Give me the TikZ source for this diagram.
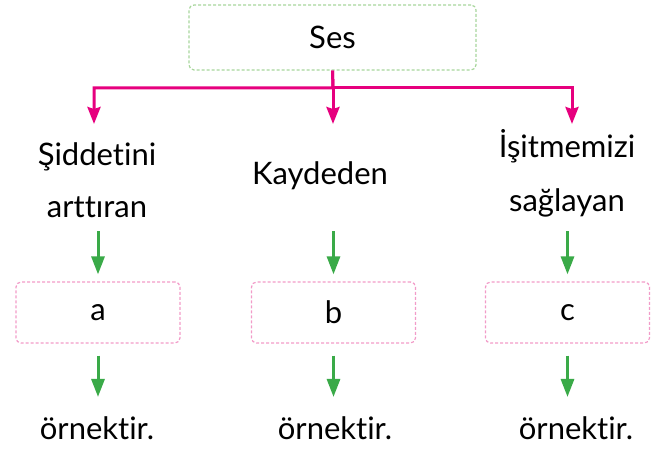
\documentclass[tikz,border=0pt]{standalone}
\usepackage{fontspec}
\setmainfont{Lato}[Ligatures={NoCommon,NoContextual}]
\usetikzlibrary{positioning,arrows.meta}
\definecolor{pembe}{HTML}{E6007E}
\definecolor{yesil}{HTML}{3AAA48}
\definecolor{acikyesil}{HTML}{A8D69C}
\definecolor{acikpembe}{HTML}{F29BC8}
\tikzset{yazi/.style={font=\fontsize{31}{52}\selectfont, inner sep=0pt, align=center},
	ustkutu/.style={draw=acikyesil, line width=1.2pt, dash pattern=on 3pt off 2pt, rounded corners=5pt, minimum width=287pt, minimum height=65pt, yazi},
	cevap/.style={draw=acikpembe, line width=1.2pt, dash pattern=on 3pt off 2pt, rounded corners=5pt, minimum width=164pt, minimum height=61pt, yazi},
	pembeok/.style={draw=pembe, line width=3pt, -{Stealth[length=17pt, width=13pt, inset=2pt]}},
	yesilok/.style={draw=yesil, line width=3pt, -{Triangle[length=18pt, width=13pt]}}}

\begin{document}
\begin{tikzpicture}[x=1pt, y=1pt]
				\useasboundingbox (0,0) rectangle (662,453);
				\node[ustkutu] (ses) at (332.5,415.5) {Ses};
				\coordinate (dal) at (333,365);

				% iki satirli dugumlerde base son satirda
				\node[yazi, anchor=base] (siddet) at (97,235)  {Şiddetini\\arttıran};
				\node[yazi, anchor=base] (kayit)  at (320,268) {Kaydeden};
				\node[yazi, anchor=base, font=\fontsize{31}{54}\selectfont] (isitme) at (567,241) {İşitmemizi\\sağlayan};

				\node[cevap] (kutua) at (98,140.5)    {a};
				\node[cevap] (kutub) at (333.5,140.5) {b};
				\node[cevap] (kutuc) at (567.5,140.5) {c};

				\node[yazi, anchor=base] (ornek1) at (97,13)  {örnektir.};
				\node[yazi, anchor=base] (ornek2) at (335,13) {örnektir.};
				\node[yazi, anchor=base] (ornek3) at (576,13) {örnektir.};

				\coordinate (pa1) at (94,329);
				\coordinate (pa2) at (333,329);
				\coordinate (pa3) at (572,329);
				\coordinate (ya1) at ([yshift=50pt]kutua.north);
				\coordinate (ya2) at ([yshift=50pt]kutub.north);
				\coordinate (ya3) at ([yshift=50pt]kutuc.north);

				\path[pembeok]
					(ses.south) -- (dal) -| (pa1);
				\path[pembeok] (dal) -| (pa3);
				\path[pembeok] (dal) -- (pa2);
				\path[draw=pembe, line width=3pt] (ses.south) -- (dal);

				\path[yesilok, shorten >=7pt] (ya1) -- (kutua.north);
				\path[yesilok, shorten >=7pt] (ya2) -- (kutub.north);
				\path[yesilok, shorten >=7pt] (ya3) -- (kutuc.north);
				\path[yesilok, shorten <=12pt, shorten >=20pt] (kutua.south) -- (kutua.south |- ornek1.north);
				\path[yesilok, shorten <=12pt, shorten >=20pt] (kutub.south) -- (kutub.south |- ornek2.north);
				\path[yesilok, shorten <=12pt, shorten >=20pt] (kutuc.south) -- (kutuc.south |- ornek3.north);
			\end{tikzpicture}
\end{document}
